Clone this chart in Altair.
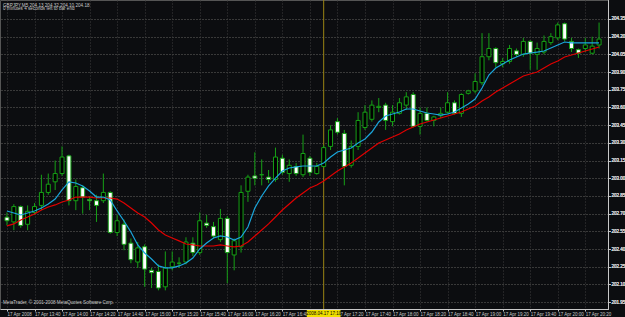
import altair as alt
import pandas as pd

# ---- data (GBPJPY, M5, 17 Apr 2008, 13:20 .. 20:30) ----
opens = [202.67,202.63,202.76,202.61,202.71,202.77,202.88,202.97,203.04,203.19,
         202.81,202.92,202.82,202.81,202.81,202.88,202.54,202.61,202.45,202.29,
         202.42,202.22,202.21,202.08,202.25,202.28,202.29,202.45,202.37,202.62,
         202.59,202.48,202.66,202.35,202.42,202.89,203.02,203.03,203.01,202.99,
         203.17,203.04,203.10,203.03,203.17,203.04,203.10,203.27,203.48,203.38,
         203.11,203.27,203.43,203.50,203.60,203.62,203.48,203.55,203.62,203.71,
         203.44,203.55,203.49,203.53,203.56,203.64,203.55,203.72,203.74,203.81,
         204.03,204.10,203.97,203.99,204.08,204.05,204.16,204.05,204.07,204.15,
         204.19,204.31,204.16,204.09,204.10,204.06,204.13]
highs = [202.71,202.78,202.77,202.77,202.79,203.03,203.04,203.15,203.27,203.20,
         202.99,202.94,202.85,202.86,203.04,202.89,202.69,202.65,202.49,202.46,
         202.44,202.24,202.27,202.38,202.38,202.33,202.50,202.50,202.71,202.69,
         202.63,202.74,202.68,202.49,202.94,203.03,203.22,203.16,203.07,203.26,
         203.20,203.16,203.13,203.37,203.19,203.13,203.28,203.45,203.51,203.41,
         203.32,203.56,203.62,203.66,203.68,203.64,203.62,203.68,203.73,203.73,
         203.60,203.60,203.53,203.60,203.73,203.66,203.72,203.75,203.89,204.23,
         204.23,204.11,204.02,204.13,204.10,204.19,204.17,204.15,204.21,204.23,
         204.32,204.32,204.19,204.10,204.19,204.20,204.32]
lows = [202.60,202.56,202.58,202.56,202.69,202.73,202.86,202.90,203.02,202.77,
        202.73,202.70,202.73,202.63,202.79,202.53,202.51,202.39,202.28,202.24,
        202.08,202.07,202.05,202.05,202.22,202.24,202.27,202.34,202.35,202.58,
        202.49,202.46,202.11,202.22,202.37,202.80,202.94,202.94,202.96,202.97,
        203.03,202.97,203.02,203.01,203.02,203.03,203.09,203.24,203.37,202.94,
        203.09,203.24,203.41,203.48,203.56,203.41,203.44,203.54,203.58,203.43,
        203.37,203.48,203.44,203.51,203.55,203.54,203.52,203.71,203.72,203.79,
        204.00,203.94,203.94,203.97,204.03,204.03,203.92,203.92,204.05,204.13,
        204.17,204.16,204.07,204.02,204.07,204.05,204.10]
closes = [202.64,202.76,202.60,202.72,202.76,202.88,202.95,203.04,203.18,202.81,
          202.93,202.84,202.81,202.77,202.88,202.54,202.64,202.44,202.31,202.41,
          202.23,202.20,202.07,202.24,202.29,202.28,202.46,202.37,202.64,202.60,
          202.51,202.66,202.37,202.47,202.88,203.01,203.00,203.03,202.99,203.18,
          203.05,203.11,203.04,203.21,203.05,203.10,203.26,203.41,203.39,203.10,
          203.27,203.49,203.56,203.62,203.61,203.49,203.56,203.64,203.69,203.44,
          203.55,203.49,203.52,203.55,203.64,203.55,203.71,203.74,203.82,204.03,
          204.10,203.98,203.99,204.10,204.05,204.16,204.06,204.10,204.16,204.20,
          204.30,204.18,204.10,204.06,204.13,204.12,204.18]
ma_fast = [202.723,202.706,202.689,202.706,202.723,202.748,202.782,202.824,202.901,202.969,
           202.960,202.935,202.892,202.841,202.841,202.816,202.723,202.638,202.545,202.435,
           202.367,202.316,202.257,202.240,202.240,202.257,202.282,202.324,202.401,202.452,
           202.494,202.511,202.502,202.477,202.502,202.587,202.748,202.850,202.935,203.002,
           203.062,203.087,203.096,203.104,203.104,203.104,203.130,203.180,203.223,203.240,
           203.257,203.299,203.333,203.392,203.477,203.528,203.545,203.562,203.587,203.587,
           203.570,203.553,203.545,203.536,203.545,203.562,203.596,203.630,203.672,203.765,
           203.875,203.935,203.969,204.002,204.028,204.053,204.062,204.070,204.079,204.104,
           204.130,204.155,204.147,204.147,204.147,204.147,204.147]
ma_slow = [202.596,202.613,202.646,202.672,202.697,202.731,202.757,202.774,202.799,202.816,
           202.841,202.841,202.841,202.833,202.833,202.833,202.824,202.791,202.748,202.706,
           202.672,202.621,202.562,202.519,202.494,202.469,202.443,202.435,202.426,202.426,
           202.426,202.435,202.426,202.418,202.426,202.460,202.511,202.562,202.613,202.672,
           202.731,202.782,202.833,202.875,202.918,202.943,202.977,203.019,203.062,203.096,
           203.130,203.172,203.214,203.257,203.299,203.324,203.350,203.375,203.409,203.435,
           203.460,203.477,203.494,203.511,203.528,203.545,203.562,203.587,203.613,203.655,
           203.689,203.731,203.765,203.799,203.833,203.867,203.884,203.901,203.935,203.969,
           203.994,204.028,204.045,204.062,204.079,204.096,204.113]

x_tick_bars = [0,4,8,12,16,20,24,28,32,36,40,44,48,52,56,60,64,68,72,76,80,84]
x_tick_labels = ["17 Apr 2008","17 Apr 13:40","17 Apr 14:00","17 Apr 14:20","17 Apr 14:40",
                 "17 Apr 15:00","17 Apr 15:20","17 Apr 15:40","17 Apr 16:00","17 Apr 16:20",
                 "17 Apr 16:40","","17 Apr 17:20","17 Apr 17:40","17 Apr 18:00",
                 "17 Apr 18:20","17 Apr 18:40","17 Apr 19:00","17 Apr 19:20","17 Apr 19:40",
                 "17 Apr 20:00","17 Apr 20:20"]
y_ticks = [201.95,202.10,202.25,202.40,202.55,202.70,202.85,203.00,203.15,203.30,
           203.45,203.60,203.75,203.90,204.05,204.20,204.35]
marker_bar = [46]
marker_label = ["2008.04.17 17:10"]
header_lines = ["GBPJPY,M5  204.13 204.32 204.10 204.18",
                "0 minutes 4 seconds left to bar end"]
footer_text = ["MetaTrader, \u00a9 2001-2008 MetaQuotes Software Corp."]

n = len(opens)
df = pd.DataFrame({
    "bar": list(range(n)),
    "open": opens, "high": highs, "low": lows, "close": closes,
    "fast": ma_fast, "slow": ma_slow,
})
df["kind"] = ["bull" if c >= o else "bear" for o, c in zip(opens, closes)]

W, H = 608, 309
FONT = "Liberation Sans"
AX = "#c8c8c8"
GREEN = "#16a016"

label_arr = "[" + ",".join("'" + s + "'" for s in x_tick_labels) + "]"

xscale = alt.Scale(domain=[-0.2857, 86.571], nice=False, zero=False)
yscale = alt.Scale(domain=[201.892, 204.511], nice=False, zero=False)

xaxis = alt.Axis(values=x_tick_bars, labelExpr=label_arr + "[round(datum.value/4)]",
                 title="", orient="bottom", grid=True, gridColor="#3c3c3c", gridDash=[1, 2],
                 domainColor=AX, tickColor=AX, tickSize=2, labelColor=AX, labelFontSize=4.5,
                 labelFont=FONT, labelAlign="left", labelBaseline="top", labelPadding=0.5,
                 labelOverlap=False, labelFlush=False)
yaxis = alt.Axis(values=y_ticks, format=".2f", title="", orient="right", grid=True,
                 gridColor="#3c3c3c", gridDash=[1, 2], domainColor=AX, tickColor=AX,
                 tickSize=2, labelColor=AX, labelFontSize=4.5, labelFont=FONT,
                 labelAlign="left", labelBaseline="middle", labelPadding=1,
                 labelOverlap=False, labelFlush=False)

base = alt.Chart(df)

wicks = base.mark_rule(color=GREEN, strokeWidth=1).encode(
    x=alt.X("bar:Q", scale=xscale, axis=xaxis),
    y=alt.Y("low:Q", scale=yscale, axis=yaxis),
    y2="high:Q",
)

bodies = base.mark_bar(size=4, stroke=GREEN, strokeWidth=1).encode(
    x=alt.X("bar:Q", scale=xscale, axis=xaxis),
    y=alt.Y("open:Q", scale=yscale, axis=yaxis),
    y2="close:Q",
    fill=alt.Fill("kind:N", scale=alt.Scale(domain=["bull", "bear"], range=["#000000", "#ffffff"]),
                  legend=None),
)

fast_line = base.mark_line(color="#1aa6dc", strokeWidth=1.2).encode(
    x=alt.X("bar:Q", scale=xscale, axis=xaxis),
    y=alt.Y("fast:Q", scale=yscale, axis=yaxis),
)
slow_line = base.mark_line(color="#e00000", strokeWidth=1.2).encode(
    x=alt.X("bar:Q", scale=xscale, axis=xaxis),
    y=alt.Y("slow:Q", scale=yscale, axis=yaxis),
)

mdf = pd.DataFrame({"bar": marker_bar, "label": marker_label})
vline = alt.Chart(mdf).mark_rule(color="#9a8414", strokeWidth=1).encode(
    x=alt.X("bar:Q", scale=xscale, axis=xaxis),
)
mbox = alt.Chart(mdf).transform_calculate(
    b0="datum.bar - 2.45", b1="datum.bar + 2.45"
).mark_rect(color="#f0e000").encode(
    x=alt.X("b0:Q", scale=xscale, axis=xaxis),
    x2="b1:Q",
    y=alt.value(310),
    y2=alt.value(317),
)
mtext = alt.Chart(mdf).mark_text(fontSize=4.5, font=FONT, color="#000000",
                                 align="center", baseline="middle").encode(
    x=alt.X("bar:Q", scale=xscale, axis=xaxis),
    y=alt.value(313.5),
    text="label:N",
)

hdf = pd.DataFrame({"t": header_lines, "row": [0, 1]})
header = alt.Chart(hdf).mark_text(fontSize=4.6, font=FONT, color=AX, align="left",
                                  baseline="middle").encode(
    x=alt.value(3),
    y=alt.Y("row:O", scale=alt.Scale(range=[4, 11.2]), axis=None),
    text="t:N",
)
fdf = pd.DataFrame({"t": footer_text})
footer = alt.Chart(fdf).mark_text(fontSize=4.6, font=FONT, color=AX, align="left",
                                  baseline="middle").encode(
    x=alt.value(3), y=alt.value(303), text="t:N",
)

chart = alt.layer(
    vline, wicks, bodies, slow_line, fast_line, mbox, mtext, header, footer
).resolve_scale(y="independent").properties(
    width=W, height=H,
    autosize=alt.AutoSizeParams(type="none"),
    padding={"left": 0, "top": 0, "right": 17, "bottom": 8},
    background="#0c0d10",
).configure_view(stroke="#555555", strokeWidth=1)

chart.save("out.html", embed_options={"renderer": "svg", "actions": False})
